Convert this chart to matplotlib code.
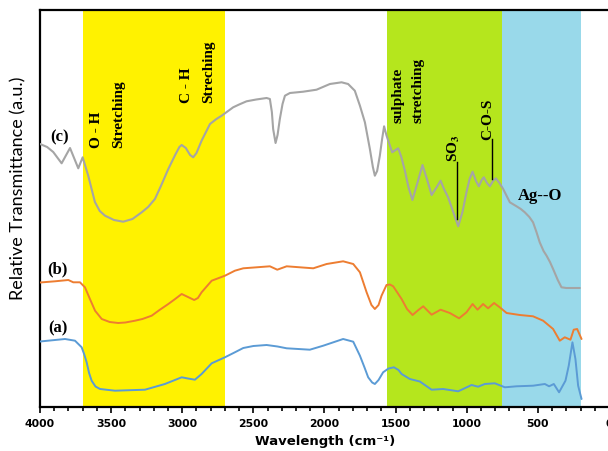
import matplotlib
matplotlib.use("Agg")
import matplotlib.pyplot as plt
from matplotlib.ticker import MultipleLocator

# FTIR spectra: wavenumber (cm^-1) and relative transmittance (a.u.)
wn_c = [4000, 3950, 3907, 3848, 3789, 3731, 3700, 3661, 3614, 3580, 3543, 3480,
        3415, 3350, 3285, 3240, 3192, 3150, 3098, 3050, 3020, 3004, 2975, 2945,
        2923, 2900, 2864, 2805, 2760, 2723, 2642, 2600, 2548, 2480, 2407, 2384,
        2370, 2361, 2344, 2330, 2314, 2295, 2278, 2243, 2150, 2056, 1962, 1880,
        1834, 1787, 1751, 1716, 1681, 1660, 1646, 1630, 1611, 1595, 1581, 1565,
        1552, 1524, 1500, 1482, 1460, 1435, 1410, 1382, 1345, 1311, 1280, 1247,
        1215, 1184, 1160, 1131, 1095, 1060, 1030, 1002, 980, 959, 935, 915, 895,
        880, 858, 838, 815, 796, 770, 744, 697, 650, 620, 592, 560, 534, 510,
        487, 460, 439, 415, 393, 360, 334, 300, 205]
t_c = [263, 260, 255, 243.7, 259, 238.7, 249.7, 231.3, 205, 196, 191.3, 187,
       185.3, 188, 194.7, 200, 208, 221, 238, 252, 260, 262, 259, 252,
       249.7, 254, 266.3, 283, 288, 291.3, 299.7, 302.5, 305.7, 307.5, 309, 308,
       295, 278, 264, 272, 288, 303, 311.3, 314, 315.3, 317.3, 323, 324.7,
       323, 316.3, 301.3, 284.7, 258, 240, 231.3, 236, 251.3, 268, 280.7, 272,
       266.3, 254.7, 257, 258.7, 250, 236.3, 220, 207, 225, 242, 228, 212,
       219, 226.3, 218, 209.7, 195, 180.7, 195, 214.7, 228, 235.3, 226, 220.7, 227,
       229.7, 224, 220.7, 226, 228.7, 224, 218, 204.7, 200.7, 198, 194.7, 190, 184.7, 175,
       164.7, 156, 151.3, 145, 138, 127, 119.7, 119, 119]

wn_b = [4000, 3895, 3801, 3766, 3719, 3684, 3649, 3613, 3566, 3510, 3450, 3400,
        3332, 3280, 3215, 3160, 3098, 3050, 3004, 2960, 2916, 2890, 2864, 2793,
        2700, 2630, 2571, 2477, 2384, 2332, 2266, 2173, 2079, 1985, 1869, 1798,
        1751, 1704, 1670, 1646, 1620, 1599, 1564, 1540, 1517, 1458, 1420, 1381,
        1340, 1306, 1247, 1184, 1119, 1054, 1002, 959, 924, 885, 850, 808, 768,
        720, 627, 534, 463, 393, 346, 311, 271, 248, 224, 193]
t_b = [124.5, 125.7, 127, 124.7, 124.7, 119.7, 108, 96.3, 88, 85, 84, 84.5,
       86.3, 88, 91.3, 97, 103, 108, 113, 110, 107, 109, 114.7, 126.3,
       131.3, 136.3, 138.7, 139.7, 140.7, 137.3, 140.7, 139.7, 138.7, 143, 145.7, 143,
       134.7, 114.7, 102, 98, 102, 111.3, 122, 122.5, 120.7, 108, 98, 92,
       97, 100.7, 92.3, 97.3, 94, 88.7, 94.7, 103, 97.3, 103, 98.7, 104, 99.7,
       94, 92, 90.7, 86.3, 78, 66.3, 69.7, 67.3, 77.3, 78, 68]

wn_a = [4000, 3824, 3754, 3707, 3690, 3672, 3655, 3637, 3610, 3578, 3473, 3262,
        3122, 3004, 2960, 2911, 2864, 2793, 2700, 2630, 2571, 2500, 2407, 2330,
        2266, 2103, 2009, 1869, 1798, 1751, 1720, 1693, 1665, 1646, 1620, 1588,
        1550, 1512, 1480, 1458, 1400, 1330, 1247, 1166, 1060, 966, 920, 873, 803,
        732, 650, 534, 451, 421, 388, 351, 306, 283, 257, 236, 217, 193]
t_a = [65.5, 68, 66.3, 59.7, 53, 44.7, 34, 26.3, 20.5, 18, 16.3, 17.3,
       23, 29.7, 28.5, 27.3, 33, 43.7, 49.7, 54.7, 59, 61, 62, 60.5,
       58.7, 57.3, 61.3, 68, 65.3, 51.3, 40, 29.7, 24.5, 23, 27, 34.7,
       38.5, 39.7, 37, 33, 28, 25.5, 17.3, 18, 15.7, 22, 20.3, 23, 23.7,
       19.7, 20.7, 21.3, 23, 20.7, 23, 14.7, 26.3, 41.3, 64.7, 48, 21.3, 8]

# Absorption regions (cm^-1)
bands = [(3700, 2700, "#FFF200"), (1560, 750, "#B5E61D"), (750, 200, "#99D9EA")]

tick_labels = ["4000", "3500", "3000", "2500", "2000", "1500", "1000", "500", "0"]

plt.rcParams["mathtext.fontset"] = "stix"

W, H = 608, 452
fig = plt.figure(figsize=(W / 100, H / 100), dpi=100)
ax = fig.add_axes([40 / W, 44 / H, 569 / W, 397 / H])

for hi, lo, col in bands:
    ax.axvspan(lo, hi, color=col, lw=0, zorder=0)

line_kw = dict(zorder=3, solid_joinstyle="round", solid_capstyle="round")
ax.plot(wn_c, t_c, color="#A5A5A5", lw=1.5, **line_kw)
ax.plot(wn_b, t_b, color="#ED7D31", lw=1.4, **line_kw)
ax.plot(wn_a, t_a, color="#5B9BD5", lw=1.4, **line_kw)

ax.set_xlim(4000, 0)
ax.set_ylim(0, 397)
ax.set_yticks([])
ax.set_xticks([int(s) for s in tick_labels])
ax.set_xticklabels(tick_labels)
ax.xaxis.set_minor_locator(MultipleLocator(100))
ax.tick_params(axis="x", which="major", direction="out", length=4, width=1.2, pad=4)
ax.tick_params(axis="x", which="minor", direction="out", length=3, width=1.2)
for lbl in ax.get_xticklabels():
    lbl.set_fontfamily("DejaVu Sans")
    lbl.set_fontweight("bold")
    lbl.set_fontsize(7.8)

for side in ("left", "bottom", "top"):
    ax.spines[side].set_linewidth(1.6)
ax.spines["right"].set_visible(False)

serif = dict(family="Liberation Serif", fontweight="bold", color="black")

# Curve labels
ax.text(3859, 271, "(c)", ha="center", va="center", fontsize=12, **serif)
ax.text(3874, 139, "(b)", ha="center", va="center", fontsize=12, **serif)
ax.text(3874, 80, "(a)", ha="center", va="center", fontsize=12, **serif)

# Band annotations
rot = dict(rotation=90, ha="center", va="bottom", fontsize=11, **serif)
ax.text(3602, 260, "O - H", **rot)
ax.text(3450, 260, "Stretching", **rot)
ax.text(2969, 305, "C - H", **rot)
ax.text(2817, 305, "Streching", **rot)
ax.text(1482, 285, "sulphate", **rot)
ax.text(1342, 285, "stretching", **rot)
ax.text(1089, 246, "SO$_\\mathbf{3}$", **rot)
ax.text(854, 268, "C-O-S", **rot)
ax.plot([1067, 1067], [188, 245], color="black", lw=1.0, zorder=4)
ax.plot([826, 826], [228, 268], color="black", lw=1.0, zorder=4)
ax.text(486, 212, "Ag--O", ha="center", va="center", fontsize=12, **serif)

fig.text(18 / W, 1 - 188 / H, "Relative Transmittance (a.u.)", rotation=90,
         ha="center", va="center", fontsize=13, family="Lato")
fig.text(325 / W, 1 - 442 / H, "Wavelength (cm\u207b\u00b9)", ha="center",
         va="center", fontsize=9.5, family="DejaVu Sans", fontweight="bold")

fig.savefig("out.png", dpi=100)
